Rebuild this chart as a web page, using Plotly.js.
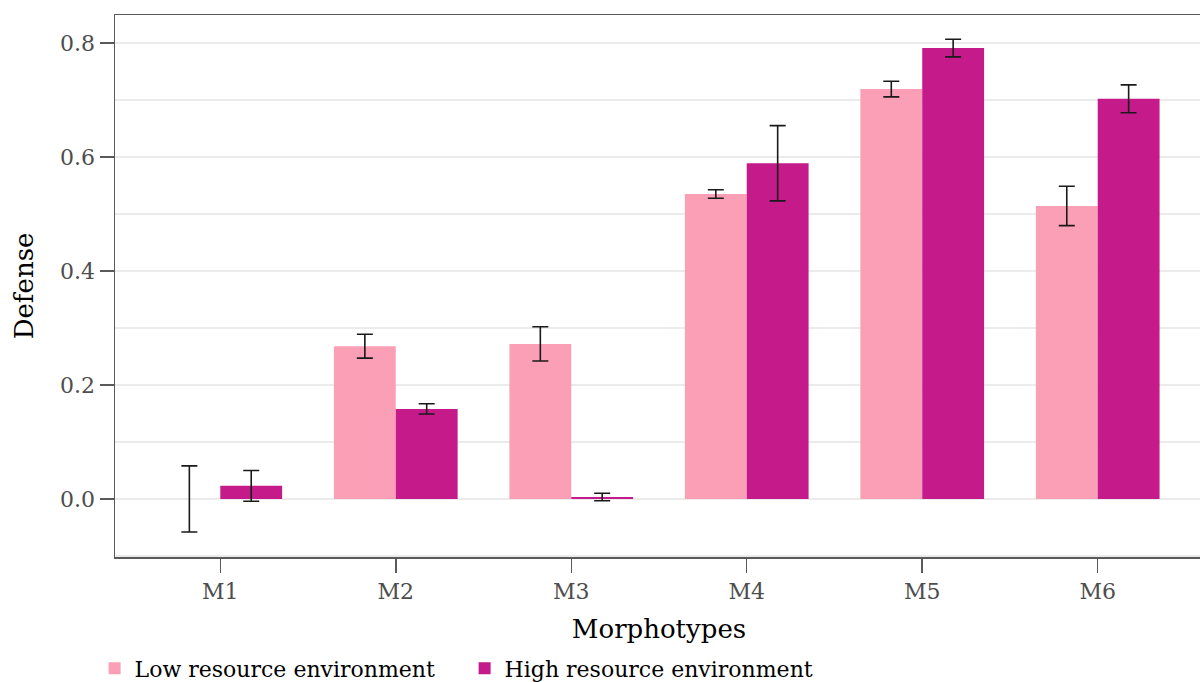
<!DOCTYPE html>
<html>
<head>
<meta charset="utf-8">
<script src="https://cdn.plot.ly/plotly-3.0.1.min.js"></script>
<style>html,body{margin:0;padding:0;overflow:hidden;background:#fff;width:1200px;height:682px;}</style>
</head>
<body>
<div id="chart"></div>
<script>
const categories = ['M1', 'M2', 'M3', 'M4', 'M5', 'M6'];
const lowValues = [0, 0.268, 0.272, 0.535, 0.719, 0.514];
const lowErrors = [0.058, 0.021, 0.030, 0.0075, 0.0137, 0.0345];
const highValues = [0.023, 0.158, 0.0035, 0.589, 0.791, 0.702];
const highErrors = [0.027, 0.009, 0.0065, 0.066, 0.0155, 0.0245];
const seriesNames = ['Low resource environment', 'High resource environment'];
const yTickValues = [0, 0.2, 0.4, 0.6, 0.8];

const FONT = '"DejaVu Serif", "Liberation Serif", serif';
const errStyle = {type: 'data', visible: true, color: '#1a1a1a', thickness: 1.6, width: 8};

const traces = [
  {type: 'bar', name: seriesNames[0], x: categories, y: lowValues,
   marker: {color: '#FA9FB5'},
   error_y: Object.assign({array: lowErrors}, errStyle)},
  {type: 'bar', name: seriesNames[1], x: categories, y: highValues,
   marker: {color: '#C51B8A'},
   error_y: Object.assign({array: highErrors}, errStyle)}
];

const layout = {
  width: 1213, height: 682,
  margin: {l: 115, r: 10, t: 15, b: 125, autoexpand: false},
  paper_bgcolor: '#fff', plot_bgcolor: '#fff',
  font: {family: FONT, color: '#000'},
  barmode: 'group', bargap: 0.295, bargroupgap: 0,
  showlegend: true,
  legend: {orientation: 'h', xref: 'container', x: 0.078, xanchor: 'left',
           yref: 'container', y: 0.02, yanchor: 'middle',
           font: {size: 22, color: '#000', family: FONT}, itemwidth: 30,
           entrywidth: 325, entrywidthmode: 'pixels',
           traceorder: 'normal'},
  xaxis: {
    type: 'category', range: [-0.6, 5.6],
    showline: true, mirror: true, linecolor: '#5a5a5a', linewidth: 1.5,
    ticks: 'outside', ticklen: 14, tickcolor: '#5a5a5a', tickwidth: 1.5,
    tickfont: {size: 22, color: '#4d4d4d', family: FONT},
    showgrid: false, zeroline: false,
    title: {text: 'Morphotypes', font: {size: 26, color: '#000', family: FONT}, standoff: 17}
  },
  yaxis: {
    range: [-0.1018, 0.849],
    tickvals: yTickValues, tickformat: '.1f',
    showline: true, mirror: true, linecolor: '#5a5a5a', linewidth: 1.5,
    ticks: 'outside', ticklen: 14, tickcolor: '#5a5a5a', tickwidth: 1.5,
    tickfont: {size: 22, color: '#4d4d4d', family: FONT},
    showgrid: true, gridcolor: '#ebebeb', gridwidth: 2,
    minor: {dtick: 0.1, showgrid: true, gridcolor: '#ebebeb', gridwidth: 2, ticks: ''},
    zeroline: false,
    title: {text: 'Defense', font: {size: 26, color: '#000', family: FONT}, standoff: 19}
  }
};

Plotly.newPlot('chart', traces, layout, {displayModeBar: false, staticPlot: true});
</script>
</body>
</html>
